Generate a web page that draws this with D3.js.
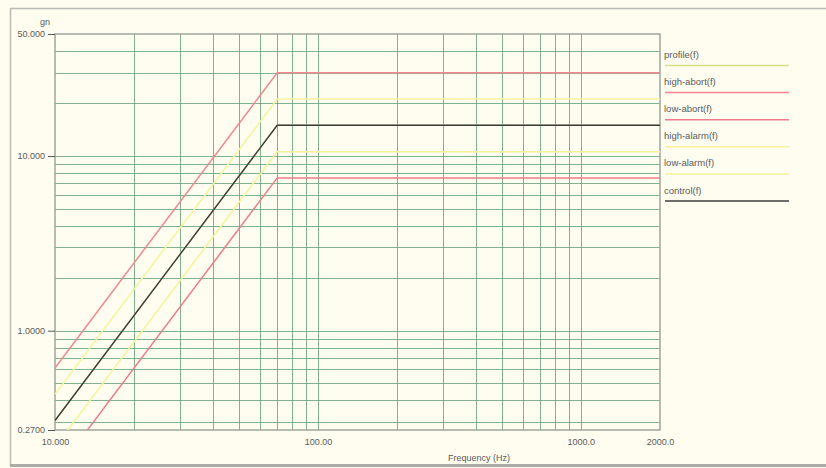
<!DOCTYPE html>
<html>
<head>
<meta charset="utf-8">
<script src="https://cdn.jsdelivr.net/npm/d3@7"></script>
<style>
  html, body { margin: 0; padding: 0; background: #fffdf0; }
  svg { display: block; }
  text { font-family: "Liberation Sans", Arial, sans-serif; }
</style>
</head>
<body>
<svg id="chart" width="826" height="468"></svg>
<script>
// Breakpoint frequencies (Hz) shared by all profile curves
const freqs = [10, 70, 2000];

// Acceleration levels (gn) at each breakpoint frequency
const profile   = [0.306, 15, 15];
const highAbort = [0.612, 30, 30];
const lowAbort  = [0.153, 7.5, 7.5];
const highAlarm = [0.433, 21.2, 21.2];
const lowAlarm  = [0.216, 10.6, 10.6];
const control   = [0.306, 15, 15];

const seriesNames  = ["profile(f)", "high-abort(f)", "low-abort(f)", "high-alarm(f)", "low-alarm(f)", "control(f)"];
const seriesValues = [profile, highAbort, lowAbort, highAlarm, lowAlarm, control];
const seriesColors = ["#d8e184", "#f2878f", "#ee7c8a", "#f7f39c", "#f6f299", "#3c3c3c"];

// Axis ticks and labels
const yTicks = [50, 10, 1, 0.27];
const yTickLabels = ["50.000", "10.000", "1.0000", "0.2700"];
const xTicks = [10, 100, 1000, 2000];
const xTickLabels = ["10.000", "100.00", "1000.0", "2000.0"];

// Grid line positions
const xGrid = [20, 30, 40, 50, 60, 70, 80, 90, 100, 200, 300, 400, 500, 600, 700, 800, 900, 1000];
const yGrid = [0.3, 0.4, 0.5, 0.6, 0.7, 0.8, 0.9, 1, 2, 3, 4, 5, 6, 7, 8, 9, 10, 20, 30, 40];

const svg = d3.select("#chart");
const plot = { left: 55, right: 660, top: 34, bottom: 430 };

const x = d3.scaleLog().domain([10, 2000]).range([plot.left, plot.right]);
const y = d3.scaleLog().domain([0.27, 50]).range([plot.bottom, plot.top]);

// Outer frame
svg.append("line").attr("x1", 10).attr("x2", 826).attr("y1", 8.5).attr("y2", 8.5)
  .attr("stroke", "#b9bab2").attr("stroke-width", 1.5);
svg.append("line").attr("x1", 10.5).attr("x2", 10.5).attr("y1", 8).attr("y2", 466)
  .attr("stroke", "#b9bab2").attr("stroke-width", 1.5);
svg.append("line").attr("x1", 10).attr("x2", 826).attr("y1", 465.5).attr("y2", 465.5)
  .attr("stroke", "#a9aba5").attr("stroke-width", 3);

// Grid
const grid = svg.append("g");
grid.selectAll("line.vx").data(xGrid).join("line")
  .attr("x1", d => Math.round(x(d)) + 0.5).attr("x2", d => Math.round(x(d)) + 0.5)
  .attr("y1", plot.top).attr("y2", plot.bottom)
  .attr("stroke", "#62a079").attr("stroke-width", 1).attr("opacity", 0.8);
grid.selectAll("line.hy").data(yGrid).join("line")
  .attr("x1", plot.left).attr("x2", plot.right)
  .attr("y1", d => Math.round(y(d)) + 0.5).attr("y2", d => Math.round(y(d)) + 0.5)
  .attr("stroke", "#62a079").attr("stroke-width", 1).attr("opacity", 0.8);

// Plot border
svg.append("rect")
  .attr("x", plot.left).attr("y", plot.top)
  .attr("width", plot.right - plot.left).attr("height", plot.bottom - plot.top)
  .attr("fill", "none").attr("stroke", "#9fa69c").attr("stroke-width", 1.5);

// Axes
const yAxis = d3.axisLeft(y).tickValues(yTicks)
  .tickFormat((d, i) => yTickLabels[i]).tickSize(7).tickPadding(3);
const gy = svg.append("g").attr("transform", `translate(${plot.left},0)`).call(yAxis);
gy.select(".domain").remove();
gy.selectAll("line").attr("stroke", "#555");
gy.selectAll("text").attr("fill", "#5a5a5a").style("font-size", "9px");

const xAxis = d3.axisBottom(x).tickValues(xTicks)
  .tickFormat((d, i) => xTickLabels[i]).tickSize(0).tickPadding(9);
const gx = svg.append("g").attr("transform", `translate(0,${plot.bottom})`).call(xAxis);
gx.select(".domain").remove();
gx.selectAll("text").attr("fill", "#5a5a5a").style("font-size", "9px");

svg.append("text").attr("x", 45).attr("y", 25).attr("text-anchor", "middle")
  .attr("fill", "#5a5a5a").style("font-size", "9px").text("gn");
svg.append("text").attr("x", 479).attr("y", 461).attr("text-anchor", "middle")
  .attr("fill", "#5a5a5a").style("font-size", "9px").text("Frequency (Hz)");

// Curves
svg.append("clipPath").attr("id", "plot-clip").append("rect")
  .attr("x", plot.left).attr("y", plot.top)
  .attr("width", plot.right - plot.left).attr("height", plot.bottom - plot.top);

const line = d3.line().x(d => x(d[0])).y(d => y(d[1]));
const curves = svg.append("g").attr("clip-path", "url(#plot-clip)");
seriesValues.forEach((vals, i) => {
  curves.append("path")
    .datum(freqs.map((f, k) => [f, vals[k]]))
    .attr("d", line)
    .attr("fill", "none")
    .attr("stroke", seriesColors[i])
    .attr("stroke-width", i === 5 ? 1.4 : 1.5);
});

// Legend
const legend = svg.append("g");
seriesNames.forEach((name, i) => {
  const ty = 58 + i * 27.1;
  legend.append("text").attr("x", 664).attr("y", ty)
    .attr("fill", "#5a5a5a").style("font-size", "9.5px").text(name);
  legend.append("line").attr("x1", 665).attr("x2", 789)
    .attr("y1", ty + 7.5).attr("y2", ty + 7.5)
    .attr("stroke", seriesColors[i]).attr("stroke-width", 1.5);
});
</script>
</body>
</html>
